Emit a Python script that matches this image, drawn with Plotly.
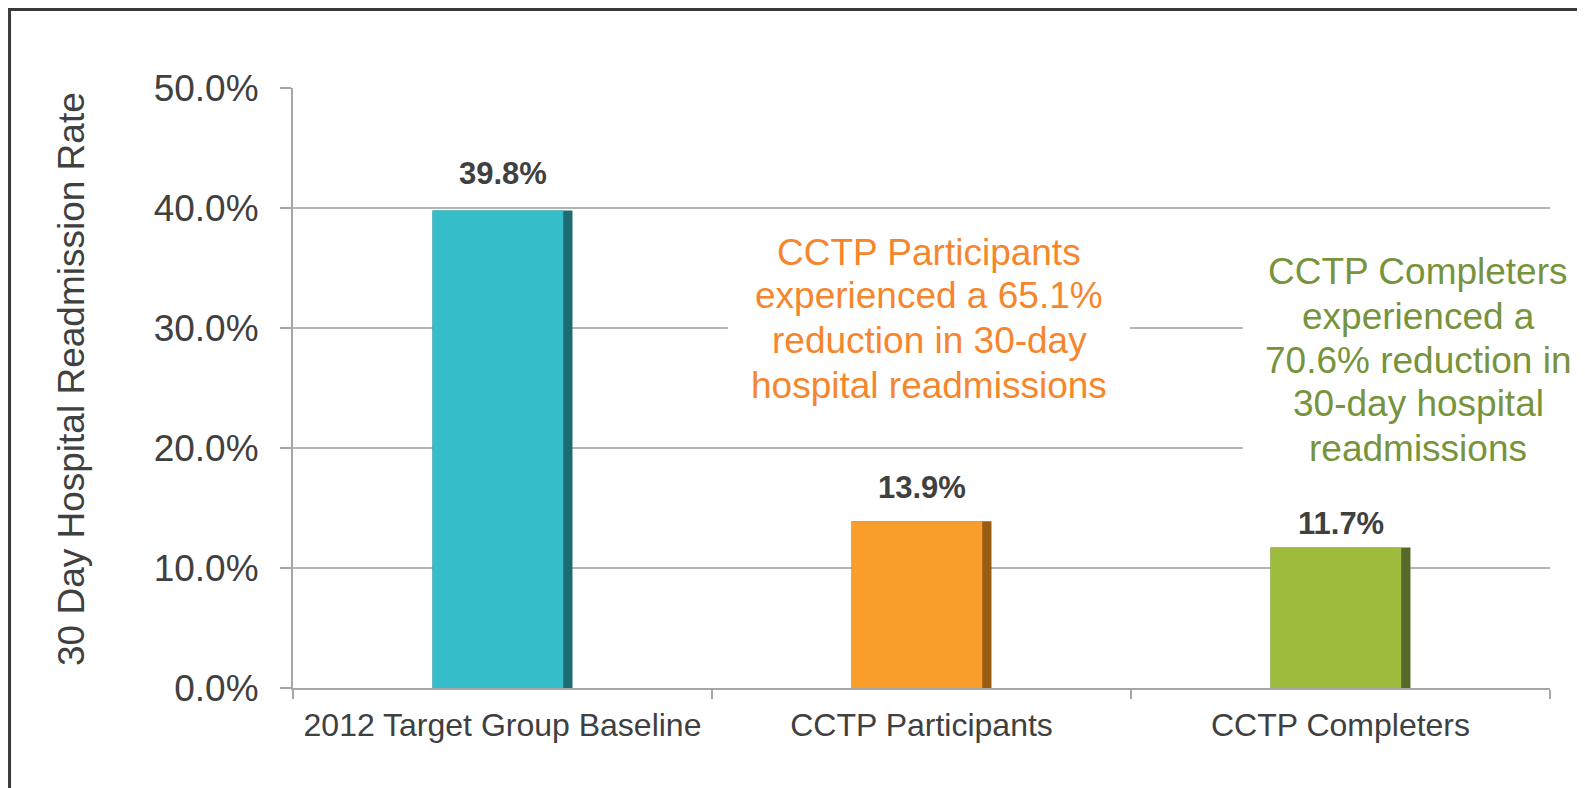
import plotly.graph_objects as go

categories = ["2012 Target Group Baseline", "CCTP Participants", "CCTP Completers"]
rates = [0.398, 0.139, 0.117]
bar_colors = ["#35BEC9", "#F99E2B", "#9DBB3D"]
edge_colors = ["#1D6C73", "#9A5B12", "#56692A"]
y_ticks = [0.0, 0.1, 0.2, 0.3, 0.4, 0.5]

orange_lines = ["CCTP Participants", "experienced a 65.1%", "reduction in 30-day", "hospital readmissions"]
green_lines = ["CCTP Completers", "experienced a", "70.6% reduction in", "30-day hospital", "readmissions"]

FONT = "Liberation Sans, Arial, sans-serif"
TXT = "#404040"
ORANGE = "#F5862E"
GREEN = "#77933C"
label_shifts = [17, 14, 5]

fig = go.Figure()
# dark edge (bevel shadow)
fig.add_trace(go.Bar(x=categories, y=rates, marker=dict(color=edge_colors, line=dict(width=0)),
                     width=0.334, hoverinfo="skip", showlegend=False))
# main face
fig.add_trace(go.Bar(x=categories, y=rates, marker=dict(color=bar_colors, line=dict(width=0)),
                     width=0.312, offset=-0.167, showlegend=False))

annotations = []
for c, v, s in zip(categories, rates, label_shifts):
    annotations.append(dict(x=c, y=v, xref="x", yref="y", text=f"<b>{v*100:.1f}%</b>",
                            showarrow=False, yanchor="bottom", yshift=s,
                            font=dict(family=FONT, size=31, color=TXT)))

orange_x = 1.019
orange_y = [0.3633, 0.3267, 0.29, 0.2525]
for t, yy in zip(orange_lines, orange_y):
    annotations.append(dict(x=orange_x, y=yy, xref="x", yref="y", text=t, showarrow=False,
                            yanchor="middle", font=dict(family=FONT, size=37, color=ORANGE)))
green_x = 2.185
green_y = [0.3467, 0.31, 0.2733, 0.2367, 0.20]
for t, yy in zip(green_lines, green_y):
    annotations.append(dict(x=green_x, y=yy, xref="x", yref="y", text=t, showarrow=False,
                            yanchor="middle", font=dict(family=FONT, size=37, color=GREEN)))

# y-axis title as rotated annotation
annotations.append(dict(x=-0.1766, y=0.515, xref="paper", yref="paper",
                        text="30 Day Hospital Readmission Rate", textangle=-90, showarrow=False,
                        xanchor="center", yanchor="middle",
                        font=dict(family=FONT, size=37, color=TXT)))

shapes = [
    # outer frame (top and left visible)
    dict(type="rect", xref="paper", yref="paper", x0=-0.2255, x1=1.2, y0=-0.5, y1=1.1308,
         line=dict(color="#3A3A3A", width=3), layer="below"),
    # white backgrounds behind the callouts
    dict(type="rect", xref="x", yref="y", x0=0.538, x1=1.498, y0=0.225, y1=0.372,
         fillcolor="white", line=dict(width=0), layer="above"),
    dict(type="rect", xref="x", yref="y", x0=1.767, x1=2.6, y0=0.18, y1=0.37,
         fillcolor="white", line=dict(width=0), layer="above"),
]

fig.update_layout(
    width=1577, height=780,
    margin=dict(l=285, r=35, t=80, b=100),
    paper_bgcolor="white", plot_bgcolor="white",
    barmode="overlay",
    annotations=annotations, shapes=shapes,
    font=dict(family=FONT, color=TXT),
)
fig.update_xaxes(
    showgrid=False, showline=True, linecolor="#A6A6A6", linewidth=2,
    ticks="outside", tickson="boundaries", ticklen=9, tickcolor="#A6A6A6", tickwidth=2,
    tickfont=dict(family=FONT, size=32, color=TXT), ticklabelstandoff=8, range=[-0.5, 2.5],
)
fig.update_yaxes(
    range=[0, 0.5], tickvals=y_ticks, tickformat=".1%",
    showgrid=True, gridcolor="#B4B4B4", gridwidth=2,
    showline=True, linecolor="#A6A6A6", linewidth=2,
    ticks="outside", ticklen=11, tickcolor="#A6A6A6", tickwidth=2,
    tickfont=dict(family=FONT, size=37, color=TXT), ticklabelstandoff=14,
    zeroline=False,
)

fig.write_html("out.html")
